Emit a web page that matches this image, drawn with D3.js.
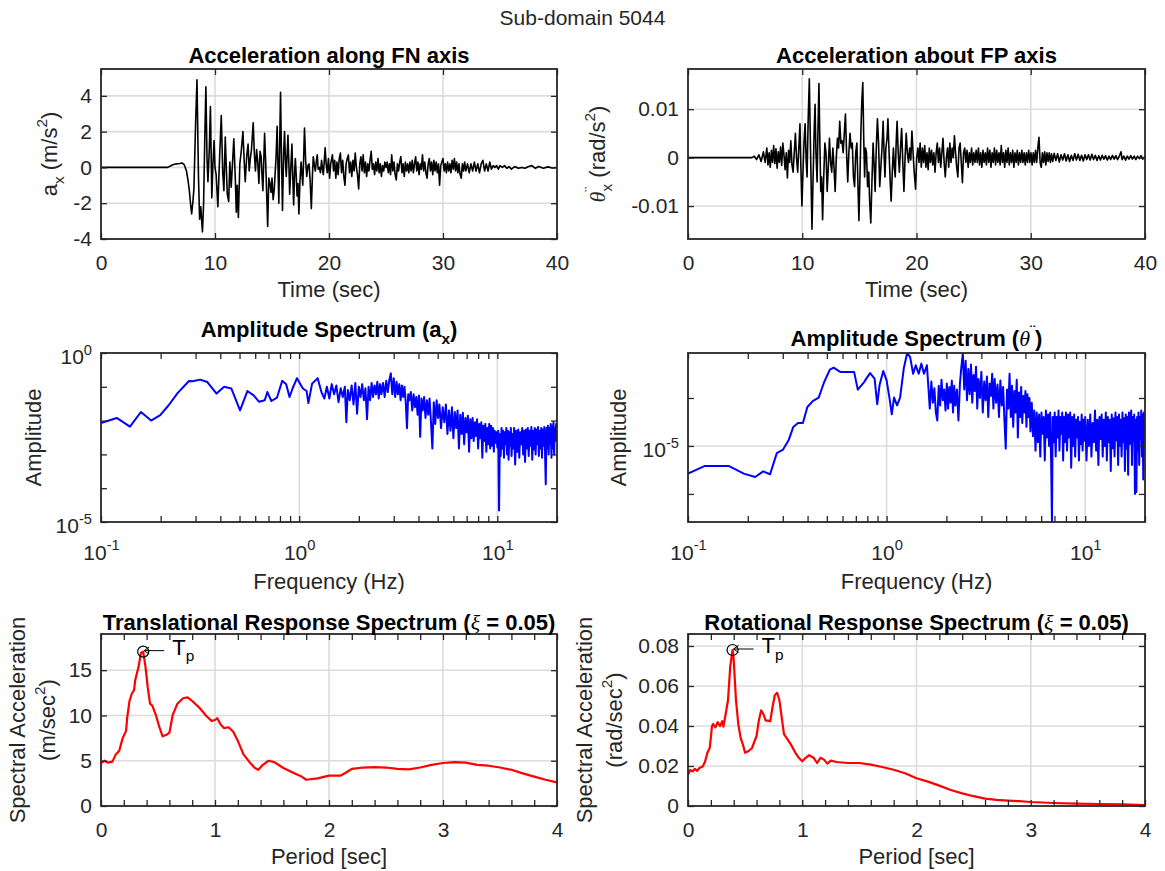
<!DOCTYPE html>
<html>
<head>
<meta charset="utf-8">
<script src="https://cdn.jsdelivr.net/npm/d3@7"></script>
<style>
  html, body { margin: 0; padding: 0; background: #fff; }
  svg { display: block; }
</style>
</head>
<body>
<script>
// ---------------- data: sub-domain 5044 ----------------
// ground acceleration along the fault-normal axis, [time (s), a_x (m/s^2)]
const fnAccel = [
[0,0],[5.8,0],[6.0,0.05],[6.3,0.15],[6.6,0.2],[6.9,0.22],[7.1,0.25],[7.3,0.15],[7.5,-0.2],[7.65,-0.8],[7.75,-1.3],[7.85,-2.0],[7.95,-2.6],[8.05,-2.0],[8.15,-1.2],[8.3,2.5],[8.42,4.9],[8.55,-0.5],[8.65,-2.9],[8.75,-2.2],[8.9,-3.6],[9.0,-2.0],[9.1,1.5],[9.2,4.5],[9.3,0.5],[9.38,-0.8],[9.5,1.0],[9.6,3.4],[9.72,-1.7],[9.82,0.2],[9.92,1.5],[10.0,0.0],[10.1,-0.4],[10.25,-2.2],[10.4,0.5],[10.55,2.9],[10.68,-0.3],[10.78,-1.3],[10.9,1.7],[11.0,-0.2],[11.08,-1.5],[11.2,-1.9],[11.3,0.3],[11.42,-1.1],[11.55,0.4],[11.65,1.6],[11.78,-0.6],[11.87,-2.5],[11.95,-1.0],[12.05,-2.8],[12.18,0.2],[12.3,0.9],[12.45,2.0],[12.55,0.5],[12.65,-0.8],[12.78,0.6],[12.9,1.3],[13.0,-0.2],[13.1,0.5],[13.2,1.0],[13.35,2.5],[13.45,0.8],[13.55,-0.2],[13.65,1.0],[13.75,0.3],[13.85,-0.9],[13.95,0.9],[14.05,0.6],[14.12,-0.4],[14.2,-1.3],[14.35,1.9],[14.45,0.2],[14.52,-1.2],[14.62,-3.3],[14.72,-0.6],[14.82,-0.9],[14.92,-1.4],[15.0,-0.6],[15.1,-1.8],[15.2,-1.2],[15.27,-0.4],[15.35,0.5],[15.45,2.3],[15.52,0.2],[15.6,-2.0],[15.68,1.5],[15.75,4.2],[15.82,1.0],[15.92,-2.4],[16.02,0.8],[16.1,2.0],[16.18,0.4],[16.25,-0.5],[16.32,0.6],[16.4,1.8],[16.48,0.2],[16.55,-1.5],[16.65,0.0],[16.75,1.3],[16.82,-0.5],[16.9,-2.1],[16.98,-0.3],[17.05,0.5],[17.12,-0.4],[17.2,-1.6],[17.28,-0.9],[17.36,-2.6],[17.45,-0.8],[17.55,0.3],[17.62,-0.3],[17.7,-1.0],[17.78,0.6],[17.85,2.2],[17.95,0.4],[18.05,-0.5],[18.15,0.1],[18.25,0.2],[18.35,-0.8],[18.45,-2.3],[18.55,-0.4],[18.62,0.6],[18.72,0.1],[18.8,-0.2],[18.9,0.4],[18.97,0.7],[19.05,-0.1],[19.15,0.0],[19.25,-0.3],[19.35,0.4],[19.43,-0.1],[19.5,-0.4],[19.58,0.3],[19.66,1.1],[19.75,0.2],[19.85,-0.3],[19.95,0.5],
[20.05,-0.6],[20.15,0.2],[20.3,0.7],[20.4,-0.2],[20.5,0.4],[20.6,-0.6],[20.7,0.3],[20.8,-0.4],[20.9,0.5],[21.0,0.8],[21.1,-0.3],[21.2,0.4],[21.3,-0.5],[21.4,-1.0],[21.5,0.2],[21.6,0.5],[21.7,0.7],[21.8,-0.3],[21.9,0.3],[22.0,-0.5],[22.1,0.4],[22.2,-0.2],[22.3,0.8],[22.4,0.0],[22.5,-0.4],[22.6,-1.2],[22.7,0.2],[22.8,0.6],[22.9,-0.2],[23.0,0.7],[23.1,-0.3],[23.2,0.3],[23.3,-0.5],[23.4,0.2],[23.5,-0.2],[23.6,0.4],[23.7,0.9],[23.8,-0.1],[23.9,0.2],[24.0,-0.4],[24.1,0.3],[24.2,-0.2],[24.3,0.5],[24.4,-0.3],[24.5,0.2],[24.6,-0.5],[24.7,0.1],[24.8,-0.2],[24.9,0.3],[25.0,0.0],[25.1,0.3],[25.2,-0.3],[25.3,0.2],[25.4,-0.4],[25.5,0.7],[25.6,-0.2],[25.7,0.3],[25.8,-0.4],[25.9,-0.7],[26.0,0.2],[26.1,-0.2],[26.2,0.3],[26.3,0.6],[26.4,-0.3],[26.5,0.2],[26.6,-0.5],[26.7,0.3],[26.8,-0.2],[26.9,0.2],[27.0,-0.3],[27.1,0.3],[27.2,-0.2],[27.3,0.4],[27.4,-0.3],[27.5,0.2],[27.6,0.6],[27.7,-0.2],[27.8,0.3],[27.9,-0.4],[28.0,0.2],[28.1,-0.1],[28.2,0.7],[28.3,-0.2],[28.4,0.3],[28.5,-0.3],[28.6,-0.6],[28.7,0.2],[28.8,0.5],[28.9,-0.2],[29.0,0.3],[29.1,-0.4],[29.2,0.4],[29.3,-0.2],[29.4,0.3],[29.5,-0.3],[29.6,0.2],[29.7,-1.0],[29.8,0.1],[29.9,0.3],[30.0,0.5],[30.1,-0.2],[30.2,0.2],[30.3,-0.3],[30.4,0.3],[30.5,-0.2],[30.6,0.2],[30.7,-0.3],[30.8,0.4],[30.9,-0.1],[31.0,0.5],[31.1,-0.2],[31.2,0.3],[31.3,-0.3],[31.4,0.2],[31.5,-0.4],[31.6,-0.6],[31.7,0.2],[31.8,-0.2],[31.9,0.3],[32.0,-0.2],[32.15,0.2],[32.3,-0.3],[32.45,0.2],[32.6,-0.2],[32.75,0.3],[32.9,-0.2],[33.05,0.2],[33.2,-0.3],[33.35,0.2],[33.5,0.4],[33.65,-0.2],[33.8,0.2],[33.95,-0.2],[34.1,0.3],[34.25,-0.1],[34.4,0.1],[34.55,0.0],[34.7,0.1],[34.85,-0.1],[35.0,0.1],[35.2,0.0],[35.4,0.1],[35.6,-0.05],[35.8,0.05],[36.0,-0.1],[36.3,0.05],[36.6,-0.05],[36.9,0.0],[37.2,-0.05],[37.5,0.05],[37.8,0.1],[38.1,-0.05],[38.4,0.05],[38.8,-0.05],[39.2,0.03],[39.6,-0.03],[40,0]
];

// rotational acceleration about the fault-parallel axis, [time (s), rad/s^2]
const fpAccel = [
[0,0],[5.6,0],[5.8,0.0003],[6.0,-0.0004],[6.2,0.0006],[6.4,-0.0008],[6.6,0.0012],[6.75,-0.001],[6.9,0.002],[7.0,-0.0015],[7.1,0.001],[7.2,-0.002],[7.3,0.0015],[7.4,-0.001],[7.5,0.0025],[7.6,-0.0012],[7.7,0.0018],[7.8,-0.0022],[7.9,0.0012],[8.0,-0.001],[8.1,0.0022],[8.2,-0.0016],[8.3,0.003],[8.4,0.0005],[8.5,-0.0025],[8.6,0.001],[8.7,-0.0042],[8.8,0.0015],[8.9,-0.001],[9.0,0.0035],[9.1,-0.0015],[9.2,-0.003],[9.3,0.001],[9.4,0.005],[9.5,0.0],[9.6,-0.003],[9.7,0.002],[9.8,0.007],[9.88,-0.002],[9.97,-0.010],[10.05,-0.004],[10.15,0.003],[10.25,0.007],[10.35,-0.001],[10.42,-0.004],[10.52,0.008],[10.62,0.0163],[10.72,0.002],[10.85,-0.0148],[10.95,-0.004],[11.05,0.006],[11.12,0.011],[11.2,0.001],[11.3,-0.005],[11.38,0.006],[11.46,0.0153],[11.55,0.002],[11.62,-0.007],[11.7,-0.004],[11.78,-0.0128],[11.88,-0.004],[11.98,0.003],[12.08,0.001],[12.18,-0.007],[12.28,-0.002],[12.38,0.004],[12.48,-0.001],[12.58,-0.003],[12.68,0.002],[12.78,-0.002],[12.88,-0.007],[12.98,0.0],[13.08,0.004],[13.18,0.002],[13.28,0.0075],[13.38,0.003],[13.48,0.0035],[13.58,0.001],[13.68,0.005],[13.78,0.009],[13.88,0.001],[13.98,-0.005],[14.08,0.001],[14.18,0.005],[14.28,0.002],[14.38,0.003],[14.48,-0.004],[14.58,-0.006],[14.68,0.001],[14.78,0.003],[14.88,-0.006],[14.96,-0.013],[15.05,-0.004],[15.14,0.006],[15.22,0.012],[15.3,0.0155],[15.38,0.004],[15.46,-0.004],[15.54,0.002],[15.62,0.001],[15.72,-0.006],[15.82,-0.003],[15.9,-0.009],[16.0,-0.0135],[16.1,-0.005],[16.2,0.003],[16.3,-0.002],[16.38,-0.007],[16.48,0.002],[16.58,0.008],[16.68,0.003],[16.78,-0.006],[16.88,-0.002],[16.98,0.002],[17.08,0.0075],[17.16,0.001],[17.24,-0.004],[17.32,0.002],[17.42,0.004],[17.5,0.008],[17.6,0.001],[17.7,-0.005],[17.78,-0.009],[17.88,-0.003],[17.98,0.002],[18.06,-0.002],[18.14,-0.004],[18.22,0.003],[18.3,0.0075],[18.4,0.001],[18.5,-0.003],[18.6,0.002],[18.7,0.006],[18.8,-0.001],[18.9,-0.007],[19.0,0.0],[19.1,0.005],[19.2,0.001],[19.3,-0.001],[19.4,0.002],[19.5,-0.0005],[19.6,0.0055],[19.7,0.001],[19.8,-0.003],[19.92,-0.0065],
[20.02,0.0],[20.12,0.002],[20.22,-0.001],[20.32,0.003],[20.42,-0.002],[20.52,0.002],[20.62,-0.001],[20.72,0.0025],[20.82,-0.002],[20.92,0.001],[21.02,-0.0025],[21.12,0.002],[21.22,-0.001],[21.32,0.0015],[21.42,-0.0015],[21.52,0.001],[21.62,-0.003],[21.72,0.001],[21.82,0.003],[21.92,-0.001],[22.02,0.002],[22.12,-0.002],[22.22,0.001],[22.32,0.004],[22.42,-0.001],[22.52,-0.004],[22.62,0.0],[22.72,0.002],[22.82,-0.002],[22.92,0.003],[23.02,-0.001],[23.12,0.002],[23.22,0.0],[23.32,0.0045],[23.42,0.001],[23.52,-0.002],[23.62,-0.004],[23.72,0.002],[23.82,0.003],[23.92,-0.001],[24.02,-0.0052],[24.12,0.001],[24.22,0.002],[24.32,-0.001],[24.42,0.0015],[24.52,-0.002],[24.62,0.001],[24.72,-0.001],[24.82,0.002],[24.92,-0.0015],[25.02,0.001],[25.12,-0.001],[25.22,0.0015],[25.32,-0.001],[25.42,0.002],[25.52,-0.0015],[25.62,0.001],[25.72,-0.002],[25.82,0.0015],[25.92,-0.001],[26.02,0.001],[26.12,-0.0015],[26.22,0.002],[26.32,-0.001],[26.42,0.0015],[26.52,-0.002],[26.62,0.001],[26.72,-0.001],[26.82,0.002],[26.92,-0.0015],[27.02,0.0015],[27.12,-0.001],[27.22,0.001],[27.32,-0.0015],[27.42,0.0025],[27.52,-0.001],[27.62,0.001],[27.72,-0.002],[27.82,0.0015],[27.92,-0.001],[28.02,0.002],[28.12,-0.0015],[28.22,0.001],[28.32,-0.001],[28.42,0.0015],[28.52,-0.002],[28.62,0.001],[28.72,-0.001],[28.82,0.0015],[28.92,-0.0015],[29.02,0.001],[29.12,-0.001],[29.22,0.0015],[29.32,-0.001],[29.42,0.001],[29.52,-0.0015],[29.62,0.001],[29.72,-0.001],[29.82,0.0015],[29.92,-0.001],[30.02,0.001],[30.12,-0.0015],[30.22,0.001],[30.32,-0.001],[30.42,0.0015],[30.52,-0.001],[30.62,0.002],[30.72,0.0042],[30.82,-0.001],[30.92,-0.002],[31.02,0.001],[31.12,-0.001],[31.22,0.0012],[31.32,-0.0015],[31.42,0.001],[31.52,-0.0008],[31.62,0.001],[31.72,-0.001],[31.82,0.0008],[31.92,-0.0008],[32.05,0.0009],[32.2,-0.0006],[32.35,0.0008],[32.5,-0.0009],[32.65,0.0006],[32.8,-0.0005],[32.95,0.0008],[33.1,-0.0007],[33.25,0.0006],[33.4,-0.0008],[33.55,0.0005],[33.7,-0.0006],[33.85,0.0008],[34.0,-0.0005],[34.15,0.0007],[34.3,-0.0006],[34.45,0.0005],[34.6,-0.0007],[34.75,0.0006],[34.9,-0.0004],[35.05,0.0006],[35.2,-0.0005],[35.35,0.0007],[35.5,-0.0004],[35.65,0.0005],[35.8,-0.0006],[35.95,0.0004],[36.1,-0.0005],[36.25,0.0005],[36.4,-0.0003],[36.55,0.0004],[36.7,-0.0005],[36.85,0.0003],[37.0,-0.0004],[37.15,0.0005],[37.3,-0.0003],[37.45,0.0004],[37.6,-0.0004],[37.75,0.0003],[37.9,0.0012],[38.0,-0.0004],[38.15,0.0003],[38.3,-0.0005],[38.45,0.0003],[38.6,-0.0003],[38.75,0.0004],[38.9,-0.0003],[39.05,0.0003],[39.2,-0.0004],[39.35,0.0003],[39.5,-0.0002],[39.65,0.0004],[39.8,-0.0003],[40,0.0002]
];

// Fourier amplitude spectrum of a_x, [frequency (Hz), amplitude]
const fnSpectrum = [
[0.1,8.5e-3],[0.12,1.2e-2],[0.14,6.6e-3],[0.159,1.8e-2],[0.179,1.0e-2],[0.199,1.45e-2],[0.219,2.8e-2],[0.244,6.6e-2],[0.278,0.148],[0.29,0.145],[0.316,0.163],[0.344,0.138],[0.383,0.063],[0.418,0.1],[0.455,0.089],[0.503,0.02],[0.548,0.075],[0.589,0.056],[0.628,0.036],[0.67,0.04],[0.691,0.07],[0.724,0.038],[0.773,0.048],[0.821,0.15],[0.86,0.118],[0.894,0.05],[0.926,0.089],[0.975,0.18],[1.044,0.089],[1.09,0.075],[1.113,0.033],[1.162,0.124],[1.24,0.18],[1.295,0.07],[1.34,0.045],
[1.38,0.1],[1.42,0.045],[1.46,0.12],[1.5,0.06],[1.54,0.11],[1.58,0.035],[1.62,0.09],[1.66,0.05],[1.7,0.1],[1.73,0.009],[1.76,0.08],[1.8,0.04],[1.84,0.11],[1.88,0.03],[1.92,0.13],[1.96,0.016],[2.0,0.1],[2.04,0.05],[2.08,0.12],[2.12,0.04],[2.16,0.09],[2.2,0.011],[2.24,0.1],[2.28,0.04],[2.32,0.13],[2.36,0.05],[2.4,0.11],[2.44,0.06],[2.48,0.14],[2.52,0.045],[2.56,0.12],[2.6,0.06],[2.65,0.13],[2.7,0.05],[2.75,0.15],[2.8,0.07],[2.85,0.16],[2.9,0.25],[2.95,0.06],[3.0,0.18],[3.05,0.05],[3.1,0.14],[3.15,0.06],[3.2,0.12],[3.25,0.04],[3.3,0.11],[3.35,0.05],[3.4,0.1],[3.45,0.035],[3.5,0.006],[3.55,0.06],[3.6,0.04],[3.66,0.07],[3.72,0.02],[3.78,0.06],[3.84,0.025],[3.9,0.05],[3.96,0.015],[4.02,0.055],[4.08,0.0033],[4.14,0.045],[4.2,0.02],[4.27,0.05],[4.34,0.012],[4.41,0.04],[4.48,0.015],[4.55,0.045],[4.62,0.01],[4.7,0.0015],[4.78,0.035],[4.86,0.008],[4.94,0.04],[5.02,0.012],[5.1,0.03],[5.2,0.006],[5.3,0.025],[5.4,0.009],[5.5,0.03],[5.6,0.004],[5.7,0.02],[5.8,0.005],[5.9,0.025],[6.0,0.003],[6.1,0.018],[6.2,0.006],[6.3,0.02],[6.4,0.0015],[6.5,0.015],[6.6,0.004],[6.7,0.017],[6.8,0.002],[6.9,0.012],[7.0,0.0045],[7.1,0.014],[7.2,0.0012],[7.3,0.011],[7.4,0.003],[7.5,0.012],[7.6,0.0025],[7.7,0.009],[7.8,0.0035],[7.9,0.011],[8.0,0.0015],[8.1,0.008],[8.2,0.003],[8.3,0.009],[8.4,0.0008],[8.5,0.007],[8.6,0.0025],[8.7,0.008],[8.8,0.0012],[8.9,0.006],[9.0,0.002],[9.1,0.008],[9.2,0.0015],[9.3,0.007],[9.4,0.0018],[9.5,0.006],[9.6,0.0012],[9.7,0.005],[9.8,0.0022],[9.9,0.0045],[10.0,0.0016],[10.1,0.005],[10.2,0.000022],[10.3,0.004],[10.4,0.0009],[10.5,0.006],[10.6,0.0015],[10.7,0.005],[10.8,0.0008],[10.9,0.0045],[11.0,0.002],[11.1,0.006],[11.2,0.001],[11.3,0.005],[11.4,0.0007],[11.5,0.0045],[11.6,0.0018],[11.7,0.006],[11.8,0.0009],[11.9,0.004],[12.0,0.0015],[12.15,0.006],[12.3,0.0005],[12.45,0.005],[12.6,0.0012],[12.75,0.0055],[12.9,0.0008],[13.05,0.0045],[13.2,0.002],[13.35,0.006],[13.5,0.001],[13.65,0.005],[13.8,0.0006],[13.95,0.0055],[14.1,0.0015],[14.25,0.006],[14.4,0.0009],[14.55,0.005],[14.7,0.0018],[14.85,0.0065],[15.0,0.0007],[15.15,0.005],[15.3,0.0014],[15.45,0.006],[15.6,0.001],[15.75,0.0055],[15.9,0.002],[16.05,0.0065],[16.2,0.0009],[16.35,0.005],[16.5,0.0015],[16.65,0.006],[16.8,0.0008],[16.95,0.0055],[17.1,0.0018],[17.25,0.0065],[17.4,0.0012],[17.55,0.00013],[17.7,0.006],[17.85,0.0015],[18.0,0.007],[18.15,0.001],[18.3,0.006],[18.45,0.002],[18.6,0.008],[18.75,0.0008],[18.9,0.007],[19.05,0.0015],[19.2,0.009],[19.35,0.001],[19.5,0.006],[19.65,0.0025],[19.8,0.008],[20.0,0.003]
];

// Fourier amplitude spectrum of the rotational acceleration, [frequency (Hz), amplitude]
const fpSpectrum = [
[0.1,2.65e-6],[0.121,3.8e-6],[0.161,3.8e-6],[0.191,2.65e-6],[0.218,2.26e-6],[0.239,2.96e-6],[0.259,2.57e-6],[0.28,7.1e-6],[0.301,8.4e-6],[0.321,1.31e-5],[0.339,2.49e-5],[0.358,3.0e-5],[0.379,3.0e-5],[0.399,6.5e-5],[0.426,8.7e-5],[0.455,1.02e-4],[0.485,2.15e-4],[0.518,3.9e-4],[0.541,4.3e-4],[0.584,3.5e-4],[0.63,3.5e-4],[0.686,3.5e-4],[0.716,1.49e-4],[0.771,2.15e-4],[0.79,2.53e-4],[0.826,3.3e-4],[0.87,2.53e-4],[0.897,7.4e-5],[0.921,1.84e-4],[0.962,3.65e-4],[1.0,2.33e-4],[1.035,9.7e-5],[1.062,4.57e-5],[1.09,1.02e-4],[1.129,7.0e-5],[1.169,1.02e-4],[1.22,4.1e-4],[1.269,8.66e-4],[1.314,7.1e-4],[1.36,3.2e-4],[1.402,4.8e-4],[1.451,3.2e-4],[1.496,5.2e-4],[1.542,3.2e-4],[1.596,4.8e-4],
[1.62,1.9e-4],[1.65,6e-5],[1.68,2.2e-4],[1.71,8e-5],[1.74,1.6e-4],[1.77,5e-5],[1.8,3.4e-5],[1.83,1.8e-4],[1.86,7e-5],[1.89,2.4e-4],[1.92,9e-5],[1.95,1.5e-4],[1.98,5.5e-5],[2.01,2e-4],[2.04,6e-5],[2.07,1.7e-4],[2.1,8e-5],[2.13,2.3e-4],[2.16,5e-5],[2.19,1.8e-4],[2.22,7e-5],[2.26,1.5e-4],[2.3,3.4e-5],[2.34,2e-4],[2.38,4.5e-4],[2.42,8.4e-4],[2.46,1.5e-4],[2.5,6e-4],[2.54,9e-5],[2.58,4e-4],[2.62,1.2e-4],[2.66,5e-4],[2.7,8e-5],[2.74,3e-4],[2.78,1.4e-4],[2.82,4.5e-4],[2.86,6e-5],[2.9,2.5e-4],[2.95,1e-4],[3.0,3.5e-4],[3.05,5e-5],[3.1,2.2e-4],[3.15,9e-5],[3.2,2.8e-4],[3.25,4e-5],[3.3,2e-4],[3.35,1.1e-4],[3.4,3.2e-4],[3.45,6e-5],[3.5,2.5e-4],[3.56,8e-5],[3.62,1.9e-4],[3.68,4e-5],[3.74,2.3e-4],[3.8,7e-5],[3.86,1.7e-4],[3.92,3.5e-5],[3.98,8.8e-6],[4.04,1.5e-4],[4.1,6e-5],[4.16,3.2e-4],[4.22,4e-5],[4.28,1.8e-4],[4.34,2.5e-5],[4.4,1.4e-4],[4.46,5e-5],[4.52,2.4e-4],[4.58,1.5e-5],[4.64,1.3e-4],[4.7,4e-5],[4.76,1.7e-4],[4.82,3e-5],[4.88,1.1e-4],[4.94,5e-5],[5.0,1.4e-4],[5.06,2.5e-5],[5.12,1.2e-4],[5.18,4e-5],[5.24,1e-4],[5.3,2e-5],[5.38,8e-5],[5.46,1.6e-5],[5.54,5.5e-5],[5.62,8e-6],[5.7,5e-5],[5.78,1.2e-5],[5.86,4.5e-5],[5.94,6e-6],[6.02,5e-5],[6.1,1.8e-5],[6.18,4e-5],[6.26,5e-6],[6.34,5.5e-5],[6.42,1.5e-5],[6.5,4.5e-5],[6.58,1e-5],[6.66,5e-5],[6.74,4e-6],[6.8,2.6e-7],[6.86,4e-5],[6.94,1.2e-5],[7.02,5e-5],[7.1,6e-6],[7.18,4e-5],[7.26,1.5e-5],[7.34,5.5e-5],[7.42,8e-6],[7.5,4e-5],[7.58,1.8e-5],[7.66,5e-5],[7.74,5e-6],[7.82,4e-5],[7.9,1.2e-5],[8.0,5e-5],[8.1,8e-6],[8.2,4.5e-5],[8.3,1.5e-5],[8.4,5e-5],[8.5,3.5e-6],[8.6,4e-5],[8.7,1e-5],[8.8,4.5e-5],[8.9,6e-6],[9.0,3.5e-5],[9.1,1.5e-5],[9.2,4e-5],[9.3,5e-6],[9.4,3.2e-5],[9.5,1.1e-5],[9.6,4.5e-5],[9.7,8e-6],[9.8,3.5e-5],[9.9,1.3e-5],[10.0,4e-5],[10.15,5e-6],[10.3,3.5e-5],[10.45,1e-5],[10.6,4.5e-5],[10.75,6e-6],[10.9,3e-5],[11.05,1.2e-5],[11.2,5.5e-5],[11.35,8e-6],[11.5,3.5e-5],[11.65,4e-6],[11.8,4e-5],[11.95,1.4e-5],[12.1,4.5e-5],[12.25,6e-6],[12.4,3.5e-5],[12.55,1e-5],[12.7,5e-5],[12.85,5e-6],[13.0,4e-5],[13.15,1.2e-5],[13.3,3.5e-5],[13.45,3e-6],[13.6,4.5e-5],[13.75,9e-6],[13.9,3.8e-5],[14.05,6e-6],[14.2,5e-5],[14.35,1.3e-5],[14.5,4e-5],[14.65,4e-6],[14.8,4.5e-5],[14.95,1e-5],[15.1,3.5e-5],[15.25,6e-6],[15.4,5e-5],[15.55,1.2e-5],[15.7,3.8e-5],[15.85,3e-6],[16.0,4.5e-5],[16.15,9e-6],[16.3,4e-5],[16.45,2.5e-6],[16.6,5e-5],[16.75,1.1e-5],[16.9,3.5e-5],[17.05,5.5e-5],[17.2,4e-6],[17.35,4e-5],[17.5,1.3e-5],[17.65,4.5e-5],[17.8,1e-6],[17.95,3.5e-5],[18.1,1.1e-6],[18.25,4e-5],[18.4,8e-6],[18.55,5e-5],[18.7,4e-6],[18.85,4e-5],[19.0,1.4e-5],[19.15,5.5e-5],[19.3,6e-6],[19.45,4.5e-5],[19.6,2e-6],[19.75,5e-5],[19.9,1.5e-5],[20.0,4e-5]
];

// 5%-damped translational response spectrum, [period (s), Sa (m/s^2)]
const transSpectrum = [
[0,4.75],[0.03,5.0],[0.06,4.8],[0.1,4.9],[0.13,5.7],[0.16,6.1],[0.19,7.5],[0.22,8.3],[0.23,9.8],[0.25,11.6],[0.27,12.4],[0.29,12.8],[0.3,13.9],[0.33,15.4],[0.35,16.9],[0.37,17.05],[0.39,15.4],[0.41,13.1],[0.43,11.3],[0.45,11.1],[0.48,10.1],[0.51,8.8],[0.54,7.7],[0.58,7.9],[0.6,8.1],[0.63,10.1],[0.67,11.3],[0.72,11.9],[0.76,12.0],[0.8,11.6],[0.86,10.9],[0.92,10.0],[0.97,9.4],[1.0,9.5],[1.02,9.7],[1.05,9.0],[1.08,8.6],[1.12,8.7],[1.16,8.2],[1.2,7.2],[1.25,5.7],[1.3,4.9],[1.35,4.2],[1.38,4.0],[1.42,4.55],[1.47,5.0],[1.52,4.85],[1.6,4.2],[1.7,3.6],[1.76,3.25],[1.8,2.9],[1.9,3.05],[2.0,3.35],[2.1,3.35],[2.15,3.7],[2.2,4.1],[2.3,4.25],[2.4,4.3],[2.5,4.25],[2.6,4.1],[2.7,4.05],[2.8,4.25],[2.9,4.55],[3.0,4.75],[3.1,4.85],[3.2,4.8],[3.3,4.55],[3.4,4.45],[3.5,4.25],[3.6,4.0],[3.7,3.6],[3.8,3.25],[3.9,2.9],[4.0,2.6]
];

// 5%-damped rotational response spectrum, [period (s), Sa (rad/s^2)]
const rotSpectrum = [
[0,0.0156],[0.02,0.018],[0.04,0.0173],[0.06,0.0186],[0.08,0.0176],[0.1,0.019],[0.13,0.0198],[0.15,0.0224],[0.17,0.0266],[0.19,0.029],[0.2,0.0342],[0.21,0.040],[0.22,0.041],[0.24,0.0393],[0.26,0.0419],[0.28,0.040],[0.3,0.0424],[0.31,0.0397],[0.33,0.046],[0.35,0.0529],[0.37,0.0698],[0.39,0.078],[0.4,0.0732],[0.42,0.0529],[0.44,0.041],[0.46,0.0342],[0.48,0.0308],[0.5,0.0266],[0.53,0.0275],[0.56,0.029],[0.6,0.035],[0.62,0.0427],[0.64,0.0478],[0.66,0.046],[0.68,0.0427],[0.7,0.0427],[0.72,0.0424],[0.74,0.0495],[0.76,0.0554],[0.78,0.0566],[0.8,0.0529],[0.82,0.0444],[0.84,0.0359],[0.87,0.0334],[0.9,0.0308],[0.94,0.0266],[0.97,0.0241],[1.0,0.0224],[1.03,0.0241],[1.06,0.0254],[1.1,0.0241],[1.13,0.0215],[1.16,0.0241],[1.19,0.0232],[1.22,0.0212],[1.25,0.0227],[1.3,0.022],[1.4,0.0215],[1.5,0.0215],[1.6,0.0207],[1.7,0.0195],[1.8,0.0181],[1.9,0.0164],[2.0,0.0139],[2.1,0.0122],[2.2,0.0102],[2.3,0.008],[2.4,0.0063],[2.5,0.0049],[2.6,0.0037],[2.7,0.0031],[2.8,0.0027],[2.9,0.0024],[3.0,0.002],[3.2,0.0015],[3.4,0.0012],[3.6,0.001],[3.8,0.0008],[4.0,0.0005]
];

// ticks
const timeTicks = [0, 10, 20, 30, 40];
const fnAccelTicks = [-4, -2, 0, 2, 4];
const fpAccelTicks = [-0.01, 0, 0.01];
const freqTicks = [0.1, 1, 10];
const freqMinorTicks = [0.2, 0.3, 0.4, 0.5, 0.6, 0.7, 0.8, 0.9, 2, 3, 4, 5, 6, 7, 8, 9, 20];
const fnAmpTicks = [1e-5, 1];
const fnAmpMinorTicks = [1e-4, 1e-3, 1e-2, 1e-1];
const fpAmpTicks = [1e-5];
const fpAmpMinorTicks = [1e-6, 1e-4];
const periodTicks = [0, 1, 2, 3, 4];
const periodMinorTicks = [0.2, 0.4, 0.6, 0.8, 1.2, 1.4, 1.6, 1.8, 2.2, 2.4, 2.6, 2.8, 3.2, 3.4, 3.6, 3.8];
const transTicks = [0, 5, 10, 15];
const rotTicks = [0, 0.02, 0.04, 0.06, 0.08];

// ---------------- drawing ----------------
const W = 1165, H = 871;
const FONT = '"Liberation Sans", Arial, Helvetica, sans-serif';
const SERIF = '"Liberation Serif", "DejaVu Serif", serif';
const AXIS = '#262626';
const GRID = '#dcdcdc';
const TICK_FS = 21, LABEL_FS = 22, TITLE_FS = 22;
const TL = 6;

const svg = d3.select('body').append('svg')
  .attr('width', W).attr('height', H)
  .attr('font-family', FONT)
  .style('background', '#fff');

svg.append('rect').attr('width', W).attr('height', H).attr('fill', '#fff');

// text with sub/superscripts and italic Greek letters
function rich(text, parts, size) {
  let shift = 0;
  for (const p of parts) {
    const target = p.sup ? -0.45 * size : p.sub ? 0.3 * size : 0;
    const ts = text.append('tspan').text(p.s);
    if (target !== shift) ts.attr('dy', target - shift);
    if (p.sup || p.sub) ts.attr('font-size', size * 0.7);
    if (p.it) ts.attr('font-style', 'italic').attr('font-family', SERIF).attr('font-weight', 'normal');
    if (p.dx) ts.attr('dx', p.dx);
    shift = target;
  }
  return text;
}

const powLabel = d => [{ s: '10' }, { s: String(Math.round(Math.log10(d))), sup: true }];

let clipCount = 0;
function panel(o) {
  const w = o.w, h = o.h;
  const x = o.x.range([0, w]);
  const y = o.y.range([h, 0]);
  const g = svg.append('g').attr('transform', `translate(${o.left},${o.top})`);

  // grid
  g.append('g').selectAll('line').data(o.xGrid).join('line')
    .attr('x1', d => x(d)).attr('x2', d => x(d)).attr('y1', 0).attr('y2', h)
    .attr('stroke', GRID).attr('stroke-width', 1.6);
  g.append('g').selectAll('line').data(o.yGrid).join('line')
    .attr('x1', 0).attr('x2', w).attr('y1', d => y(d)).attr('y2', d => y(d))
    .attr('stroke', GRID).attr('stroke-width', 1.6);

  // data
  const id = 'clip' + (++clipCount);
  g.append('clipPath').attr('id', id).append('rect').attr('width', w).attr('height', h);
  g.append('g').attr('clip-path', `url(#${id})`)
    .append('path').datum(o.data)
    .attr('d', d3.line().x(d => x(d[0])).y(d => y(d[1])))
    .attr('fill', 'none').attr('stroke', o.color).attr('stroke-width', o.lw)
    .attr('stroke-linejoin', 'round');

  // axes: inward ticks on all four sides
  const place = (gen, tx, ty) => g.append('g')
    .attr('transform', `translate(${tx},${ty})`)
    .call(gen)
    .call(s => s.select('.domain').remove())
    .attr('color', AXIS).attr('font-size', TICK_FS).attr('font-family', FONT)
    .call(s => s.selectAll('line').attr('stroke-width', 1.3))
    .call(s => s.selectAll('text').attr('fill', AXIS));

  const none = () => '';
  const xb = place(d3.axisBottom(x).tickValues(o.xTicks).tickSize(-TL)
    .tickPadding(o.xLog ? 23 : 16).tickFormat(o.xLog ? none : d => String(d)), 0, h);
  if (o.xLog) xb.selectAll('text').each(function (d) { rich(d3.select(this).text(null), powLabel(d), TICK_FS); });
  place(d3.axisTop(x).tickValues(o.xTicks).tickSize(-TL).tickFormat(none), 0, 0);
  if (o.xMinor) {
    place(d3.axisBottom(x).tickValues(o.xMinor).tickSize(-TL).tickFormat(none), 0, h);
    place(d3.axisTop(x).tickValues(o.xMinor).tickSize(-TL).tickFormat(none), 0, 0);
  }
  const yl = place(d3.axisLeft(y).tickValues(o.yTicks).tickSize(-TL)
    .tickPadding(9).tickFormat(o.yLog ? none : d => String(d)), 0, 0);
  if (o.yLog) yl.selectAll('text').attr('dy', '0.52em')
    .each(function (d) { rich(d3.select(this).text(null), powLabel(d), TICK_FS); });
  place(d3.axisRight(y).tickValues(o.yTicks).tickSize(-TL).tickFormat(none), w, 0);
  if (o.yMinor) {
    place(d3.axisLeft(y).tickValues(o.yMinor).tickSize(-TL).tickFormat(none), 0, 0);
    place(d3.axisRight(y).tickValues(o.yMinor).tickSize(-TL).tickFormat(none), w, 0);
  }

  // frame
  g.append('rect').attr('width', w).attr('height', h)
    .attr('fill', 'none').attr('stroke', AXIS).attr('stroke-width', 1.8);

  // title
  rich(svg.append('text').attr('x', o.left + w / 2).attr('y', o.titleY)
    .attr('text-anchor', 'middle').attr('font-size', TITLE_FS).attr('font-weight', 'bold')
    .attr('fill', '#000'), o.title, TITLE_FS);

  // x label
  rich(svg.append('text').attr('x', o.left + w / 2).attr('y', o.xLabelY)
    .attr('text-anchor', 'middle').attr('font-size', LABEL_FS).attr('fill', AXIS),
    o.xLabel, LABEL_FS);

  // y label (one or two lines)
  o.yLabels.forEach(l => {
    rich(svg.append('text')
      .attr('transform', `translate(${l.x},${o.top + h / 2}) rotate(-90)`)
      .attr('text-anchor', 'middle').attr('font-size', LABEL_FS).attr('fill', AXIS),
      l.parts, LABEL_FS);
  });

  // predominant period marker: circle on the peak, leader arrow and T_p label
  if (o.peak) {
    const pk = d3.greatest(o.data, d => d[1]);
    const px = x(pk[0]), py = y(pk[1]);
    g.append('circle').attr('cx', px).attr('cy', py).attr('r', 5.5)
      .attr('fill', 'none').attr('stroke', '#000').attr('stroke-width', 1.2);
    g.append('path')
      .attr('d', `M${px + 1},${py - 1}H${px + 21}M${px + 1},${py - 1}l5,-3.5M${px + 1},${py - 1}l5,3.5`)
      .attr('fill', 'none').attr('stroke', '#000').attr('stroke-width', 1);
    rich(g.append('text').attr('x', px + 29).attr('y', py + 3)
      .attr('font-size', 22).attr('fill', '#000'),
      [{ s: 'T' }, { s: 'p', sub: true }], 22);
  }
}

// figure title
svg.append('text').attr('x', W / 2).attr('y', 25).attr('text-anchor', 'middle')
  .attr('font-size', 21).attr('fill', AXIS).text('Sub-domain 5044');

const L = { left: 101, w: 456 }, R = { left: 688, w: 457 };

panel({
  ...L, top: 69, h: 170,
  x: d3.scaleLinear().domain([0, 40]), y: d3.scaleLinear().domain([-4, 5.5]),
  data: fnAccel, color: '#000', lw: 1.6,
  xTicks: timeTicks, yTicks: fnAccelTicks, xGrid: [10, 20, 30], yGrid: fnAccelTicks,
  title: [{ s: 'Acceleration along FN axis' }], titleY: 63,
  xLabel: [{ s: 'Time (sec)' }], xLabelY: 297,
  yLabels: [{ x: 57, parts: [{ s: 'a' }, { s: 'x', sub: true }, { s: ' (m/s' }, { s: '2', sup: true }, { s: ')' }] }]
});

panel({
  ...R, top: 69, h: 170,
  x: d3.scaleLinear().domain([0, 40]), y: d3.scaleLinear().domain([-0.0168, 0.0183]),
  data: fpAccel, color: '#000', lw: 1.6,
  xTicks: timeTicks, yTicks: fpAccelTicks, xGrid: [10, 20, 30], yGrid: fpAccelTicks,
  title: [{ s: 'Acceleration about FP axis' }], titleY: 63,
  xLabel: [{ s: 'Time (sec)' }], xLabelY: 297,
  yLabels: [{ x: 605, parts: [{ s: '\u03B8', it: true }, { s: '\u00A8', sup: true }, { s: 'x', sub: true, dx: -5 }, { s: ' (rad/s' }, { s: '2', sup: true }, { s: ')' }] }]
});

panel({
  ...L, top: 353, h: 169,
  x: d3.scaleLog().domain([0.1, 20]), y: d3.scaleLog().domain([1e-5, 1]),
  xLog: true, yLog: true,
  data: fnSpectrum, color: '#0000ff', lw: 2,
  xTicks: freqTicks, xMinor: freqMinorTicks, yTicks: fnAmpTicks, yMinor: fnAmpMinorTicks,
  xGrid: [1, 10], yGrid: [],
  title: [{ s: 'Amplitude Spectrum (a' }, { s: 'x', sub: true }, { s: ')' }], titleY: 337,
  xLabel: [{ s: 'Frequency (Hz)' }], xLabelY: 589,
  yLabels: [{ x: 41, parts: [{ s: 'Amplitude' }] }]
});

panel({
  ...R, top: 353, h: 169,
  x: d3.scaleLog().domain([0.1, 20]), y: d3.scaleLog().domain(d3.extent(fpSpectrum, d => d[1])),
  xLog: true, yLog: true,
  data: fpSpectrum, color: '#0000ff', lw: 2,
  xTicks: freqTicks, xMinor: freqMinorTicks, yTicks: fpAmpTicks, yMinor: fpAmpMinorTicks,
  xGrid: [1, 10], yGrid: fpAmpTicks,
  title: [{ s: 'Amplitude Spectrum (' }, { s: '\u03B8', it: true }, { s: '\u00A8', sup: true }, { s: ')' }], titleY: 346,
  xLabel: [{ s: 'Frequency (Hz)' }], xLabelY: 589,
  yLabels: [{ x: 626, parts: [{ s: 'Amplitude' }] }]
});

panel({
  ...L, top: 634, h: 172,
  x: d3.scaleLinear().domain([0, 4]), y: d3.scaleLinear().domain([0, 19]),
  data: transSpectrum, color: '#ff0000', lw: 2.2, peak: true,
  xTicks: periodTicks, xMinor: periodMinorTicks, yTicks: transTicks,
  xGrid: [1, 2, 3], yGrid: [5, 10, 15],
  title: [{ s: 'Translational Response Spectrum (' }, { s: '\u03BE', it: true }, { s: ' = 0.05)' }], titleY: 630,
  xLabel: [{ s: 'Period [sec]' }], xLabelY: 864,
  yLabels: [
    { x: 25, parts: [{ s: 'Spectral Acceleration' }] },
    { x: 55, parts: [{ s: '(m/sec' }, { s: '2', sup: true }, { s: ')' }] }
  ]
});

panel({
  ...R, top: 634, h: 172,
  x: d3.scaleLinear().domain([0, 4]), y: d3.scaleLinear().domain([0, 0.086]),
  data: rotSpectrum, color: '#ff0000', lw: 2.2, peak: true,
  xTicks: periodTicks, xMinor: periodMinorTicks, yTicks: rotTicks,
  xGrid: [1, 2, 3], yGrid: [0.02, 0.04, 0.06, 0.08],
  title: [{ s: 'Rotational Response Spectrum (' }, { s: '\u03BE', it: true }, { s: ' = 0.05)' }], titleY: 630,
  xLabel: [{ s: 'Period [sec]' }], xLabelY: 864,
  yLabels: [
    { x: 592, parts: [{ s: 'Spectral Acceleration' }] },
    { x: 622, parts: [{ s: '(rad/sec' }, { s: '2', sup: true }, { s: ')' }] }
  ]
});
</script>
</body>
</html>
